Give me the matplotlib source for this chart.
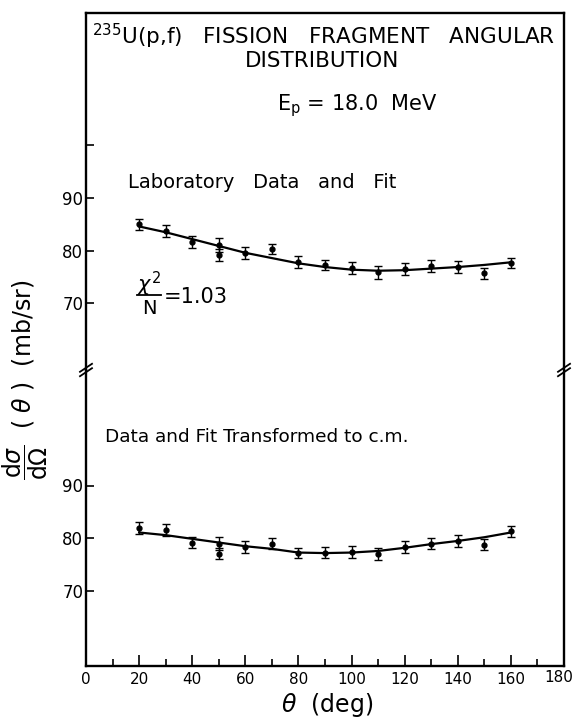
import matplotlib
matplotlib.use("Agg")
import matplotlib.pyplot as plt
from matplotlib.transforms import ScaledTranslation

plt.rcParams['font.family'] = ['DejaVu Sans']
plt.rcParams['mathtext.fontset'] = 'dejavusans'

# ---- data ----
theta = [20, 30, 40, 50, 60, 70, 80, 90, 100, 110, 120, 130, 140, 150, 160]
lab_y = [85.0, 83.7, 81.7, 81.1, 79.6, 80.3, 77.9, 77.3, 76.7, 75.9, 76.5, 77.1, 76.9, 75.7, 77.7]
lab_err = [1.1, 1.1, 1.1, 1.3, 1.1, 1.0, 1.1, 1.0, 1.1, 1.2, 1.1, 1.1, 1.1, 1.1, 1.0]
lab_fit = [84.6, 83.5, 82.2, 80.9, 79.6, 78.6, 77.6, 76.9, 76.4, 76.2, 76.3, 76.6, 76.9, 77.3, 77.8]
lab_extra_theta = [50]
lab_extra_y = [79.2]
lab_extra_err = [1.2]

cm_y = [81.9, 81.6, 79.2, 79.0, 78.3, 79.0, 77.2, 77.3, 77.4, 77.0, 78.4, 79.0, 79.5, 78.8, 81.3]
cm_err = [1.1, 1.1, 1.0, 1.3, 1.1, 1.0, 1.0, 1.0, 1.1, 1.1, 1.1, 1.1, 1.1, 1.0, 1.1]
cm_fit = [81.1, 80.6, 79.9, 79.2, 78.5, 78.0, 77.3, 77.2, 77.3, 77.6, 78.2, 78.9, 79.5, 80.2, 81.1]
cm_extra_theta = [50]
cm_extra_y = [77.1]
cm_extra_err = [1.1]

xticks_major = [0, 20, 40, 60, 80, 100, 120, 140, 160, 180]
xticks_minor = [10, 30, 50, 70, 90, 110, 130, 150, 170]
top_yticks = [70, 80, 90, 100]
top_yticklabels = ["70", "80", "90", ""]
bot_yticks = [70, 80, 90]
bot_yticklabels = ["70", "80", "90"]

W, H = 576, 721
fig = plt.figure(figsize=(W / 100, H / 100), dpi=100)

def fx(px):
    return px / W

def fy(py):
    return 1 - py / H

left_px, right_px = 86, 564
top_px, brk_px, bot_px = 13, 370, 666

ax_top = fig.add_axes([fx(left_px), fy(brk_px), fx(right_px - left_px), (brk_px - top_px) / H])
ax_bot = fig.add_axes([fx(left_px), fy(bot_px), fx(right_px - left_px), (bot_px - brk_px) / H])

lw_spine = 1.7
for ax in (ax_top, ax_bot):
    ax.set_xlim(0, 180)
    for s in ax.spines.values():
        s.set_linewidth(lw_spine)
    ax.tick_params(axis='y', direction='in', length=6, width=1.2, labelsize=12, pad=2)

ax_top.set_ylim(80 - (brk_px - 250.7) / 5.27, 80 + (250.7 - top_px) / 5.27)
ax_bot.set_ylim(80 - (bot_px - 538.3) / 5.28, 80 + (538.3 - brk_px) / 5.28)
ax_top.spines['bottom'].set_visible(False)
ax_bot.spines['top'].set_visible(False)

ax_top.set_xticks([])
ax_top.set_yticks(top_yticks)
ax_top.set_yticklabels(top_yticklabels)
ax_bot.set_yticks(bot_yticks)
ax_bot.set_yticklabels(bot_yticklabels)

ax_bot.set_xticks(xticks_major)
ax_bot.set_xticklabels([str(v) for v in xticks_major])
ax_bot.set_xticks(xticks_minor, minor=True)
ax_bot.tick_params(axis='x', which='major', direction='in', length=8, width=1.2, labelsize=11, pad=4)
ax_bot.tick_params(axis='x', which='minor', direction='in', length=5, width=1.2)

# keep the last tick label ("180") inside the picture, as in the reference
last_lbl = ax_bot.get_xticklabels()[-1]
last_lbl.set_transform(last_lbl.get_transform() + ScaledTranslation(-5 / 100, 2 / 100, fig.dpi_scale_trans))

eb_kw = dict(fmt='o', color='black', ms=3.5, elinewidth=1.0, capsize=3, capthick=1.0)

# upper panel
ax_top.plot(theta, lab_fit, color='black', lw=1.6)
ax_top.errorbar(theta, lab_y, yerr=lab_err, **eb_kw)
ax_top.errorbar(lab_extra_theta, lab_extra_y, yerr=lab_extra_err, **eb_kw)

# lower panel
ax_bot.plot(theta, cm_fit, color='black', lw=1.6)
ax_bot.errorbar(theta, cm_y, yerr=cm_err, **eb_kw)
ax_bot.errorbar(cm_extra_theta, cm_extra_y, yerr=cm_extra_err, **eb_kw)

# break marks on the frame
for xp in (left_px, right_px):
    for dy in (-2.2, 2.2):
        fig.add_artist(plt.Line2D([fx(xp - 6), fx(xp + 6)],
                                  [fy(brk_px + dy + 4), fy(brk_px + dy - 4)],
                                  color='black', lw=1.3))

# texts
fig.text(fx(324), fy(36), r"$^{235}$U(p,f)   FISSION   FRAGMENT   ANGULAR",
         ha='center', va='center', fontsize=15.5)
fig.text(fx(322), fy(61), "DISTRIBUTION", ha='center', va='center', fontsize=15.5)
fig.text(fx(277), fy(106), r"E$_\mathrm{p}$ = 18.0  MeV", ha='left', va='center', fontsize=15)
fig.text(fx(128), fy(183), "Laboratory   Data   and   Fit", ha='left', va='center', fontsize=14)
fig.text(fx(149), fy(292), r"$\chi^2$", ha='center', va='baseline', fontsize=15)
fig.add_artist(plt.Line2D([fx(137), fx(161)], [fy(295), fy(295)], color='black', lw=1.3))
fig.text(fx(149), fy(299), "N", ha='center', va='top', fontsize=14)
fig.text(fx(164), fy(297), "=1.03", ha='left', va='center', fontsize=15)
fig.text(fx(105), fy(437), "Data and Fit Transformed to c.m.", ha='left', va='center', fontsize=13.3)

fig.text(fx(25), fy(380), r"$\dfrac{\mathrm{d}\sigma}{\mathrm{d}\Omega}$  ( $\theta$ )  (mb/sr)",
         rotation=90, ha='center', va='center', fontsize=17)
fig.text(fx(327), fy(705), r"$\theta$  (deg)", ha='center', va='center', fontsize=17)

fig.savefig("out.png", dpi=100)
